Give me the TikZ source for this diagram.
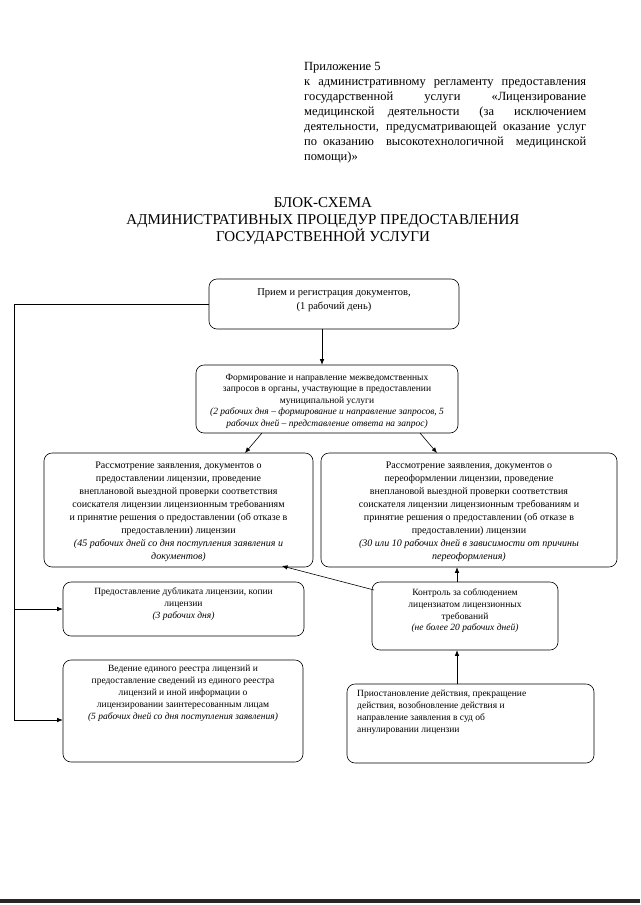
\documentclass[tikz,border=0pt]{standalone}
\usepackage{fontspec}
\setmainfont{Liberation Serif}
\usetikzlibrary{arrows.meta}
\begin{document}
\begin{tikzpicture}[x=1pt,y=-1pt,
  box/.style={draw, rounded corners=8pt, line width=0.6pt, inner sep=0pt},
  txt/.style={align=center, inner sep=0pt, font=\fontsize{10}{13}\selectfont},
  arr/.style={-{Latex[length=5.5pt,width=4.5pt]}, line width=0.6pt},
  ln/.style={line width=0.6pt}]
\useasboundingbox (0,0) rectangle (640,905);

% header
\node[anchor=north west, inner sep=0pt, align=left, font=\fontsize{12.5}{15}\selectfont] (hdr) at (304,62) {%
Приложение 5\\
\makebox[282pt][s]{к административному регламенту предоставления}\\
\makebox[282pt][s]{государственной\ \ \ \ \ \ \ \ услуги\ \ \ \ \ \ \ \ «Лицензирование}\\
\makebox[282pt][s]{медицинской\ \ деятельности\ \ \ (за\ \ \ исключением}\\
\makebox[282pt][s]{деятельности, предусматривающей оказание услуг}\\
\makebox[282pt][s]{по\ оказанию\ \ высокотехнологичной\ \ медицинской}\\
помощи)»};

% title
\node[align=center, inner sep=0pt, font=\fontsize{15}{17}\selectfont] (ttl) at (323,221) {%
БЛОК-СХЕМА\\АДМИНИСТРАТИВНЫХ ПРОЦЕДУР ПРЕДОСТАВЛЕНИЯ\\ГОСУДАРСТВЕННОЙ УСЛУГИ};

% boxes
\node[box, minimum width=250pt, minimum height=50pt] (b1) at (334,304) {};
\node[box, minimum width=262pt, minimum height=68pt] (b2) at (327,399) {};
\node[box, minimum width=269pt, minimum height=114pt] (b3) at (178.5,510) {};
\node[box, minimum width=296pt, minimum height=114pt] (b4) at (469,510) {};
\node[box, minimum width=241pt, minimum height=54pt] (b5) at (183.5,609) {};
\node[box, minimum width=186pt, minimum height=68pt] (b6) at (465,616) {};
\node[box, minimum width=240pt, minimum height=102pt] (b7) at (183,711) {};
\node[box, minimum width=247pt, minimum height=79pt] (b8) at (470.5,723.5) {};

% texts
\node[txt, font=\fontsize{10.5}{14}\selectfont] (t1) at (334,300) {Прием и регистрация документов,\\(1 рабочий день)};
\node[txt, font=\fontsize{9.5}{11.5}\selectfont] (t2) at (327,401) {Формирование и направление межведомственных\\
запросов в органы, участвующие в предоставлении\\
муниципальной услуги\\
\textit{(2 рабочих дня – формирование и направление запросов, 5}\\
\textit{рабочих дней – представление ответа на запрос)}};
\node[txt] (t3) at (178.5,512) {Рассмотрение заявления, документов о\\
предоставлении лицензии, проведение\\
внеплановой выездной проверки соответствия\\
соискателя лицензии лицензионным требованиям\\
и принятие решения о предоставлении (об отказе в\\
предоставлении) лицензии\\
\textit{(45 рабочих дней со дня поступления заявления и}\\
\textit{документов)}};
\node[txt] (t4) at (469,512) {Рассмотрение заявления, документов о\\
переоформлении лицензии, проведение\\
внеплановой выездной проверки соответствия\\
соискателя лицензии лицензионным требованиям и\\
принятие решения о предоставлении (об отказе в\\
предоставлении) лицензии\\
\textit{(30 или 10 рабочих дней в зависимости от причины}\\
\textit{переоформления)}};
\node[txt, font=\fontsize{9.5}{12}\selectfont] (t5) at (183.5,604) {Предоставление дубликата лицензии, копии\\
лицензии\\
\textit{(3 рабочих дня)}};
\node[txt, font=\fontsize{9.5}{11.7}\selectfont] (t6) at (465,611) {Контроль за соблюдением\\
лицензиатом лицензионных\\
требований\\
\textit{(не более 20 рабочих дней)}};
\node[txt, font=\fontsize{9.5}{12}\selectfont] (t7) at (183,693) {Ведение единого реестра лицензий и\\
предоставление сведений из единого реестра\\
лицензий и иной информации о\\
лицензировании заинтересованным лицам\\
\textit{(5 рабочих дней со дня поступления заявления)}};
\node[txt, align=left, anchor=west, font=\fontsize{9.5}{12}\selectfont] (t8) at (357,712) {Приостановление действия, прекращение\\
действия, возобновление действия и\\
направление заявления в суд об\\
аннулировании лицензии};

% helper coordinates
\coordinate (cx1) at (322,0);
\coordinate (cx2) at (457,0);
\coordinate (lx) at (14,720);
\coordinate (a2s) at (262,433);
\coordinate (a3n) at (245,453);
\coordinate (a2r) at (420,433);
\coordinate (a4n) at (437,453);
\coordinate (a6w) at (374,590);
\coordinate (a3s) at (282,566);

% connectors
\draw[arr] (b1.south -| cx1) -- (b2.north -| cx1);
\draw[arr] (a2s) -- (a3n);
\draw[arr] (a2r) -- (a4n);
\draw[ln] (b1.west) -| (lx);
\draw[arr] (lx) -- (lx -| b7.west);
\draw[arr] (b5.west -| lx) -- (b5.west);
\draw[arr] (b6.north -| cx2) -- (b4.south -| cx2);
\draw[arr] (a6w) -- (a3s);
\draw[arr] (b8.north -| cx2) -- (b6.south -| cx2);

% bottom scan bar
\fill[black!85] (0,899) rectangle (640,902.5);
\end{tikzpicture}
\end{document}
